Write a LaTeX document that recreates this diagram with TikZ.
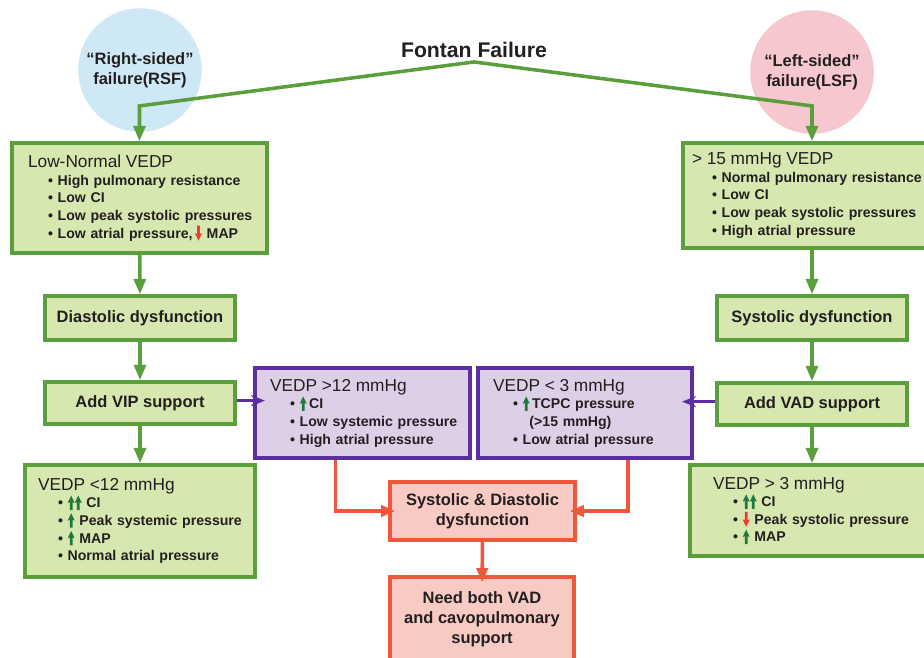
\documentclass[tikz,border=0pt]{standalone}
\usepackage{fontspec}
\setmainfont{Liberation Sans}
\usepackage{xcolor}
\usetikzlibrary{
    arrows.meta,
    positioning,
    calc
}
\definecolor{grnline}{HTML}{5B9E3C}
\definecolor{grnfill}{HTML}{D7E7B0}
\definecolor{prpline}{HTML}{5B2FA0}
\definecolor{prpfill}{HTML}{DDD0E6}
\definecolor{redline}{HTML}{F0583C}
\definecolor{redfill}{HTML}{F8CAC4}
\definecolor{arrgreen}{HTML}{1E7A3C}
\definecolor{arrred}{HTML}{F03A2A}
\definecolor{txtdark}{HTML}{231F20}
\definecolor{rsfblue}{HTML}{CFE8F6}
\definecolor{lsfpink}{HTML}{F6C7CF}

% small up/down marks used inside the lists
\newcommand{\upmark}{\tikz[baseline=0pt,x=1pt,y=1pt]\fill[arrgreen] (0,10.5)--(3,4.2)--(1.2,4.9)--(1.2,-1.8)--(-1.2,-1.8)--(-1.2,4.9)--(-3,4.2)--cycle;}
\newcommand{\downmark}{\tikz[baseline=0pt,x=1pt,y=1pt]\fill[arrred] (0,-2.2)--(3,4.2)--(1.2,3.5)--(1.2,10.5)--(-1.2,10.5)--(-1.2,3.5)--(-3,4.2)--cycle;}
\newcommand{\hd}[1]{\mbox{\fontsize{14.7}{15}\selectfont\mdseries #1}}
\newcommand{\itm}[1]{\\\hspace*{17pt}\mbox{\textbullet\ #1}}

\begin{document}
\begin{tikzpicture}[x=0.85pt, y=-0.85pt,
    every node/.style={text=txtdark},
    gbox/.style={draw=grnline, fill=grnfill, line width=3pt, font=\fontsize{14}{17}\selectfont\bfseries, align=center},
    lbox/.style={draw=grnline, fill=grnfill, line width=3pt, font=\fontsize{12}{15}\selectfont\bfseries, align=left},
    pbox/.style={draw=prpline, fill=prpfill, line width=3pt, font=\fontsize{12}{15}\selectfont\bfseries, align=left},
    rbox/.style={draw=redline, fill=redfill, line width=3pt, font=\fontsize{14}{17}\selectfont\bfseries, align=center},
    garrow/.style={draw=grnline, line width=3pt, -{Triangle[length=13pt,width=10pt]}},
    parrow/.style={draw=prpline, line width=3pt, -{Stealth[length=12pt,width=9.5pt]}, shorten >=-10pt},
    rarrow/.style={draw=redline, line width=3pt, -{Triangle[length=12pt,width=9.5pt]}, shorten >=-6pt}
]
    \useasboundingbox (0,0) rectangle (924,657);

    % two kinds of failure
    \node[circle, fill=rsfblue, minimum size=105pt, font=\fontsize{14}{17}\selectfont\bfseries, align=center] (rsf) at (140,70) {``Right-sided''\\failure(RSF)};
    \node[circle, fill=lsfpink, minimum size=105pt, font=\fontsize{14}{17}\selectfont\bfseries, align=center] (lsf) at (812,72) {``Left-sided''\\failure(LSF)};

    \node[font=\fontsize{18}{20}\selectfont\bfseries] (title) at (474,50) {Fontan Failure};

    % left column
    \node[lbox, minimum width=216.75pt, minimum height=93.5pt, text width=189.5pt, inner xsep=13.6pt] (rsfbox) at (139.5,198) {
        \hd{Low-Normal VEDP}
        \itm{High pulmonary resistance}
        \itm{Low CI}
        \itm{Low peak systolic pressures}
        \itm{Low atrial pressure,\,\downmark\ MAP}
    };
    \node[gbox, minimum width=161.5pt, minimum height=37.4pt] (diast) at (140,318) {Diastolic dysfunction};
    \node[gbox, minimum width=161.5pt, minimum height=35.7pt] (addvip) at (140,403) {Add VIP support};
    \node[lbox, minimum width=195.5pt, minimum height=95.2pt, text width=173.4pt, inner xsep=11pt] (vedplow) at (140,521) {
        \hd{VEDP <12 mmHg}
        \itm{\upmark\upmark\ CI}
        \itm{\upmark\ Peak systemic pressure}
        \itm{\upmark\ MAP}
        \itm{Normal atrial pressure}
    };

    % right column
    \node[lbox, minimum width=219.3pt, minimum height=89.25pt, text width=204pt, inner xsep=7.65pt] (lsfbox) at (812,195.5) {
        \hd{> 15 mmHg VEDP}
        \itm{Normal pulmonary resistance}
        \itm{Low CI}
        \itm{Low peak systolic pressures}
        \itm{High atrial pressure}
    };
    \node[gbox, minimum width=161.5pt, minimum height=37.4pt] (syst) at (812,318) {Systolic dysfunction};
    \node[gbox, minimum width=161.5pt, minimum height=35.7pt] (addvad) at (812,404) {Add VAD support};
    \node[lbox, minimum width=207.4pt, minimum height=77.35pt, text width=168.3pt, inner xsep=19.5pt] (vedphigh) at (812,510.5) {
        \hd{VEDP > 3 mmHg}
        \itm{\upmark\upmark\ CI}
        \itm{\downmark\ Peak systolic pressure}
        \itm{\upmark\ MAP}
    };

    % middle
    \node[pbox, minimum width=182.75pt, minimum height=76.5pt, text width=157.25pt, inner xsep=12.75pt] (vipout) at (362.5,413) {
        \hd{VEDP >12 mmHg}
        \itm{\upmark\,CI}
        \itm{Low systemic pressure}
        \itm{High atrial pressure}
    };
    \node[pbox, minimum width=181.9pt, minimum height=76.5pt, text width=156.4pt, inner xsep=12.75pt] (vadout) at (585,413) {
        \hd{VEDP < 3 mmHg}
        \itm{\upmark\,TCPC pressure}\\\hspace*{31pt}\mbox{(>15 mmHg)}
        \itm{Low atrial pressure}
    };
    \node[rbox, minimum width=157.25pt, minimum height=49.3pt] (sysdia) at (482.5,511) {Systolic \& Diastolic\\dysfunction};
    \node[rbox, minimum width=156.4pt, minimum height=72.25pt] (need) at (482,619.5) {Need both VAD\\and cavopulmonary\\support};

    % connectors
    \coordinate (apex) at (title.south);
    \draw[garrow] (apex) -- ([yshift=30pt]rsfbox.north) -- (rsfbox.north);
    \draw[garrow] (apex) -- ([yshift=30pt]lsfbox.north) -- (lsfbox.north);
    \draw[garrow] (rsfbox) -- (diast);
    \draw[garrow] (diast) -- (addvip);
    \draw[garrow] (addvip) -- (vedplow);
    \draw[garrow] (lsfbox) -- (syst);
    \draw[garrow] (syst) -- (addvad);
    \draw[garrow] (addvad) -- (vedphigh);

    \draw[parrow] ([yshift=2pt]addvip.east) -- ([yshift=2pt]addvip.east -| vipout.west);
    \draw[parrow] ([yshift=2pt]addvad.west) -- ([yshift=2pt]addvad.west -| vadout.east);

    \draw[rarrow] ([xshift=-23pt]vipout.south) |- (sysdia.west);
    \draw[rarrow] ([xshift=36.5pt]vadout.south) |- (sysdia.east);
    \draw[rarrow] (sysdia) -- (need);
\end{tikzpicture}
\end{document}
